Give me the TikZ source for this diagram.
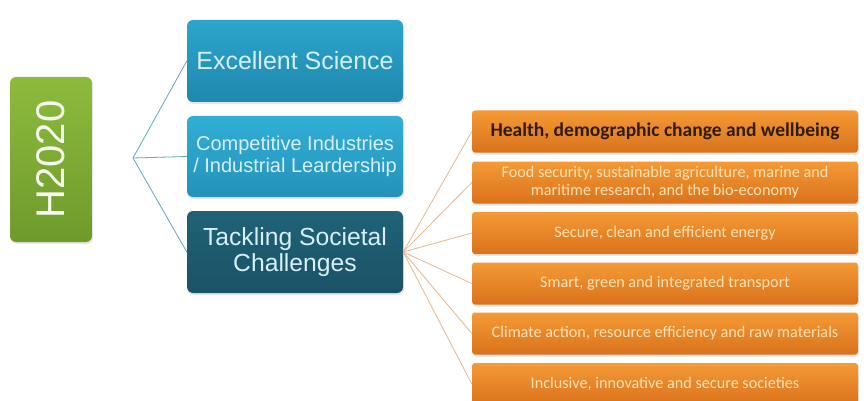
\documentclass[tikz,border=0pt]{standalone}
\usepackage{fontspec}
\setmainfont{Liberation Sans}
\newfontfamily\carlito{Carlito}
\usetikzlibrary{shadows}
\definecolor{grnT}{HTML}{8DBB3D}
\definecolor{grnB}{HTML}{6E9A2B}
\definecolor{bluT}{HTML}{2CA5CD}
\definecolor{bluB}{HTML}{1F88AE}
\definecolor{blu2T}{HTML}{32AFD7}
\definecolor{blu2B}{HTML}{2492BA}
\definecolor{tealT}{HTML}{206277}
\definecolor{tealB}{HTML}{1A5266}
\definecolor{bluTxt}{HTML}{D6EFF8}
\definecolor{orT}{HTML}{F49A36}
\definecolor{orB}{HTML}{DA721B}
\definecolor{orTxt}{HTML}{FBE2B6}
\definecolor{orDark}{HTML}{2E1A0E}
\definecolor{bluLine}{HTML}{5FA9C6}
\definecolor{orLine}{HTML}{E9B68A}
\tikzset{
  pillar/.style={rounded corners=6pt, inner sep=0pt, text=bluTxt, align=center,
    drop shadow={opacity=0.2, shadow xshift=1pt, shadow yshift=-2pt}},
  chall/.style={rounded corners=3pt, inner sep=0pt, top color=orT, bottom color=orB,
    minimum width=386pt, minimum height=42pt, text=orTxt, align=center,
    font=\carlito\fontsize{16.2}{18}\selectfont,
    drop shadow={opacity=0.2, shadow xshift=1pt, shadow yshift=-2pt}},
  blink/.style={draw=bluLine, line width=0.8pt},
  olink/.style={draw=orLine, line width=0.8pt}
}
\begin{document}
\begin{tikzpicture}[x=1pt,y=-1pt]
\clip (0,0) rectangle (864,401);
\fill[white] (0,0) rectangle (864,401);
% H2020
\node[rounded corners=6pt, inner sep=0pt, top color=grnT, bottom color=grnB,
  minimum width=82pt, minimum height=165pt, text=white!92!grnT,
  drop shadow={opacity=0.2, shadow xshift=1pt, shadow yshift=-2pt}] (h) at (51,159.5)
  {\rotatebox{90}{\fontsize{40}{40}\selectfont H2020}};
% pillars
\node[pillar, top color=bluT, bottom color=bluB, minimum width=216pt, minimum height=82pt,
  font=\fontsize{25}{28}\selectfont] (exc) at (295,61) {Excellent Science};
\node[pillar, top color=blu2T, bottom color=blu2B, minimum width=216pt, minimum height=81pt,
  font=\fontsize{20}{22}\selectfont] (comp) at (295,156.5) {Competitive Industries\\/ Industrial Leardership};
\node[pillar, top color=tealT, bottom color=tealB, minimum width=216pt, minimum height=82pt,
  font=\fontsize{24.7}{26.5}\selectfont] (tack) at (295,252) {Tackling Societal\\Challenges};
% challenges
\node[chall, text=orDark, font=\carlito\bfseries\fontsize{19.5}{21}\selectfont] (o1) at (665,131.5) {Health, demographic change and wellbeing};
\node[chall] (o2) at (665,182.5) {Food security, sustainable agriculture, marine and\\maritime research, and the bio-economy};
\node[chall] (o3) at (665,233) {Secure, clean and efficient energy};
\node[chall] (o4) at (665,283.5) {Smart, green and integrated transport};
\node[chall] (o5) at (665,333.5) {Climate action, resource efficiency and raw materials};
\node[chall] (o6) at (665,384) {Inclusive, innovative and secure societies};
% connectors
\coordinate (j) at (133,158);
\draw[blink] (j) -- (exc.west);
\draw[blink] (j) -- (comp.west);
\draw[blink] (j) -- (tack.west);
\foreach \o in {o1,o2,o3,o4,o5,o6}{
  \draw[olink] (tack.east) -- (\o.west);
}
\end{tikzpicture}
\end{document}
